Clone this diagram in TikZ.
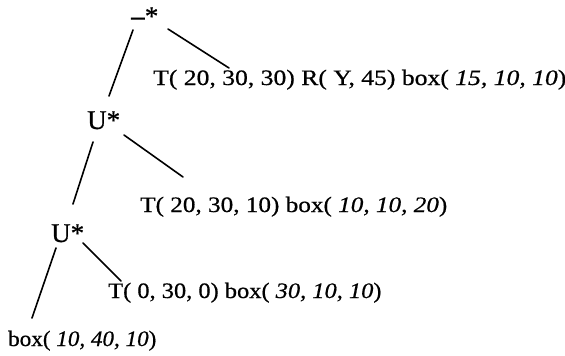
\documentclass[tikz,border=0pt]{standalone}
\usepackage{fontspec}
\setmainfont{Liberation Serif}[FakeBold=0.6]
\usepackage{graphicx}
\newcommand\wide[2][1.1]{\scalebox{#1}[1]{#2}}
\begin{document}
\begin{tikzpicture}[x=1pt,y=-1pt,
  lbl/.style={inner sep=0pt, anchor=base west, font=\fontsize{22}{26}\selectfont},
  opnode/.style={inner sep=0pt, anchor=base west, font=\fontsize{27}{30}\selectfont},
  edge/.style={line width=1.6pt, line cap=round}]
\useasboundingbox[fill=white] (0,0) rectangle (565,356);
\node[opnode] (root) at (131,25) {\textbf{–}*};
\node[opnode] (u1) at (87,129) {U*};
\node[opnode] (u2) at (51,242) {U*};
\node[lbl] (t1) at (153,85) {\wide[1.165]{T( 20, 30, 30) R( Y, 45) box( \textit{15, 10, 10})}};
\node[lbl] (t2) at (140,212) {\wide[1.145]{T( 20, 30, 10) box( \textit{10, 10, 20})}};
\node[lbl] (t3) at (108,298) {\wide[1.11]{T( 0, 30, 0) box( \textit{30, 10, 10})}};
\node[lbl] (b) at (8,346) {\wide[1.05]{box( \textit{10, 40, 10})}};
\draw[edge] ([shift={(2,5)}]root.base west) -- ([shift={(22,-33)}]u1.base west);
\draw[edge] ([shift={(37,4)}]root.base west) -- ([shift={(76,-17)}]t1.base west);
\draw[edge] ([shift={(6,13)}]u1.base west) -- ([shift={(22,-38)}]u2.base west);
\draw[edge] ([shift={(37,6)}]u1.base west) -- ([shift={(43,-35)}]t2.base west);
\draw[edge] ([shift={(5,6)}]u2.base west) -- ([shift={(24,-28)}]b.base west);
\draw[edge] ([shift={(32,1)}]u2.base west) -- ([shift={(13,-17)}]t3.base west);
\end{tikzpicture}
\end{document}
